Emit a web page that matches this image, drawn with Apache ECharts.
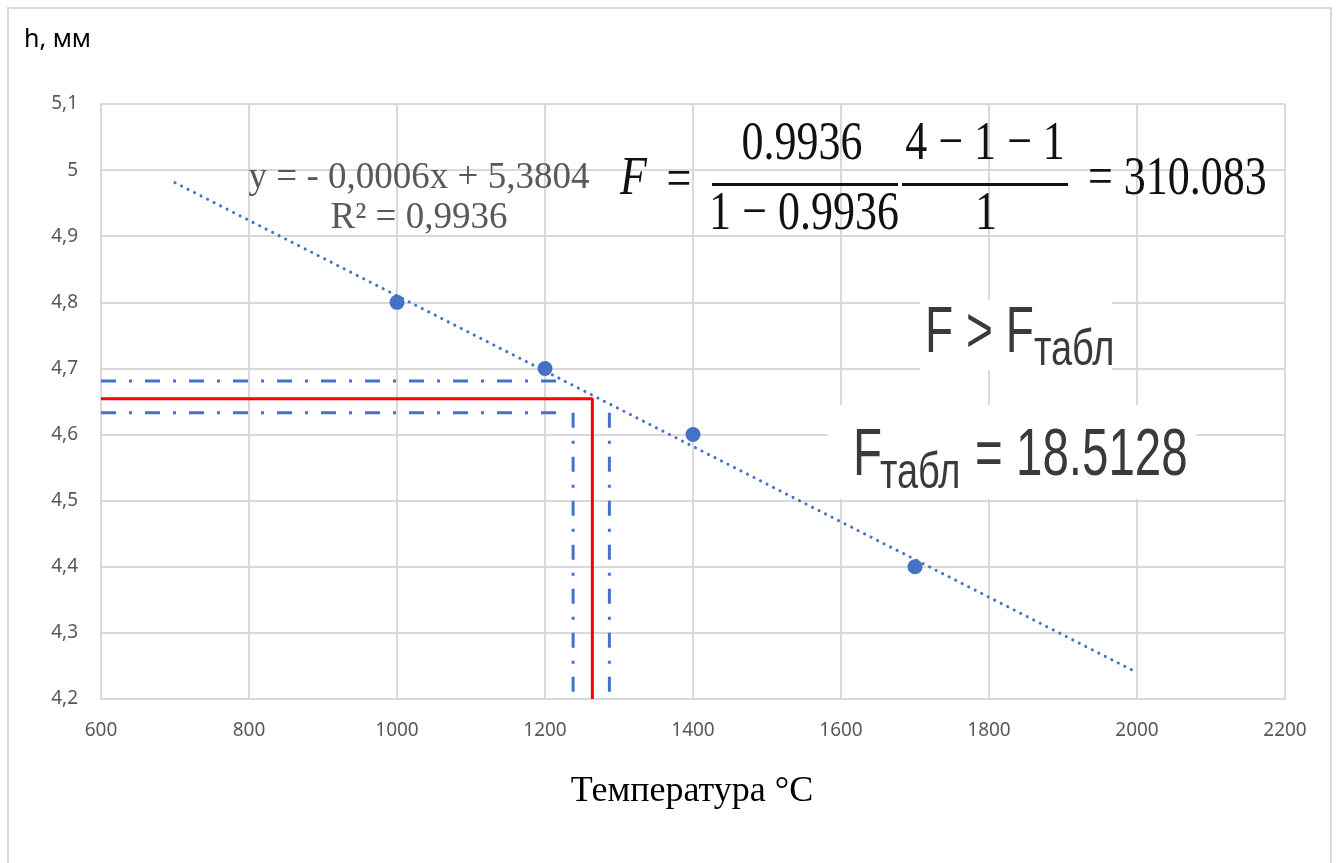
<!DOCTYPE html>
<html>
<head>
<meta charset="utf-8">
<script src="https://cdn.jsdelivr.net/npm/echarts@6/dist/echarts.min.js"></script>
<style>
  html, body { margin: 0; padding: 0; background: #fff; }
  #main { width: 1338px; height: 863px; }
</style>
</head>
<body>
<div id="main"></div>
<script>
// measured points
var temps = [1000, 1200, 1400, 1700];
var heights = [4.8, 4.7, 4.6, 4.4];

// linear trendline end points
var trendX = [700, 2000];
var trendY = [4.981, 4.240];

// reference lines
var redX = [600, 1264, 1264];
var redY = [4.654, 4.654, 4.2];
var blueUpperX = [600, 1218];
var blueUpperY = [4.681, 4.681];
var blueLowerX = [600, 1218];
var blueLowerY = [4.633, 4.633];
var blueLeftX = [1238, 1238];
var blueLeftY = [4.633, 4.2];
var blueRightX = [1287, 1287];
var blueRightY = [4.633, 4.2];

function pairs(xs, ys) {
    return xs.map(function (x, i) { return [x, ys[i]]; });
}

var chart = echarts.init(document.getElementById('main'), null, { renderer: 'canvas' });

var blue = '#4472c4';
var dashDot = [15, 13, 3, 13];
var labelFont = '"Noto Sans", sans-serif';
var serif = '"Liberation Serif", serif';
var sans = '"Liberation Sans", Arial, sans-serif';

function refLine(data, color, type) {
    return {
        type: 'line',
        data: data,
        symbol: 'none',
        silent: true,
        z: 3,
        lineStyle: { color: color, width: 3, type: type }
    };
}

var option = {
    animation: false,
    backgroundColor: '#fff',
    grid: {
        left: 101,
        right: 53,
        top: 104,
        bottom: 164
    },
    xAxis: {
        type: 'value',
        min: 600,
        max: 2200,
        interval: 200,
        axisLine: { show: true, lineStyle: { color: '#d9d9d9', width: 2 } },
        axisTick: { show: false },
        axisLabel: {
            color: '#595959', fontSize: 19, fontFamily: labelFont, margin: 22,
            formatter: function (v) { return String(v); }
        },
        splitLine: { show: true, lineStyle: { color: '#d9d9d9', width: 2 } }
    },
    yAxis: {
        type: 'value',
        min: 4.2,
        max: 5.1,
        interval: 0.1,
        axisLine: { show: true, lineStyle: { color: '#d9d9d9', width: 2 } },
        axisTick: { show: false },
        axisLabel: {
            color: '#595959', fontSize: 19, fontFamily: labelFont, margin: 23,
            formatter: function (v) {
                return String(Math.round(v * 10) / 10).replace('.', ',');
            }
        },
        splitLine: { show: true, lineStyle: { color: '#d9d9d9', width: 2 } }
    },
    series: [
        {
            type: 'line',
            data: pairs(trendX, trendY),
            symbol: 'none',
            silent: true,
            z: 3,
            lineStyle: { color: blue, width: 3, type: [0.1, 7.2], cap: 'round' }
        },
        refLine(pairs(blueUpperX, blueUpperY), blue, dashDot),
        refLine(pairs(blueLowerX, blueLowerY), blue, dashDot),
        refLine(pairs(blueLeftX, blueLeftY), blue, dashDot),
        refLine(pairs(blueRightX, blueRightY), blue, dashDot),
        refLine(pairs(redX, redY), '#ff0000', 'solid'),
        {
            type: 'scatter',
            data: pairs(temps, heights),
            symbolSize: 15,
            z: 5,
            itemStyle: { color: blue, opacity: 1 }
        }
    ],
    graphic: [
        // outer frame
        { type: 'rect', shape: { x: 8, y: 8, width: 1323, height: 880 }, style: { fill: null, stroke: '#d9d9d9', lineWidth: 2 }, z: 0 },
        // white boxes behind F labels
        { type: 'rect', shape: { x: 920, y: 300, width: 192, height: 70 }, style: { fill: '#fff' }, z: 1 },
        { type: 'rect', shape: { x: 828, y: 405, width: 368, height: 94 }, style: { fill: '#fff' }, z: 1 },

        // axis titles
        { type: 'text', x: 24, y: 40, z: 10, style: { text: 'h, мм', fill: '#000', font: '25px ' + labelFont, verticalAlign: 'middle' } },
        { type: 'text', x: 692, y: 792, z: 10, style: { text: 'Температура °С', fill: '#000', font: '36px ' + serif, align: 'center', verticalAlign: 'middle' } },

        // trendline equation
        { type: 'text', x: 419, y: 178, z: 10, style: { text: 'y = - 0,0006x + 5,3804', fill: '#595959', font: '37px ' + serif, align: 'center', verticalAlign: 'middle' } },
        { type: 'text', x: 419, y: 218, z: 10, style: { text: 'R² = 0,9936', fill: '#595959', font: '37px ' + serif, align: 'center', verticalAlign: 'middle' } },

        // F formula
        { type: 'text', x: 620, y: 180, scaleY: 1.25, z: 10, style: { text: 'F', fill: '#111', font: 'italic 44px ' + serif, verticalAlign: 'middle' } },
        { type: 'text', x: 679, y: 182, scaleY: 1.25, z: 10, style: { text: '=', fill: '#111', font: '44px ' + serif, align: 'center', verticalAlign: 'middle' } },
        { type: 'rect', shape: { x: 712, y: 183, width: 186, height: 3 }, style: { fill: '#111' }, z: 10 },
        { type: 'rect', shape: { x: 902, y: 183, width: 166, height: 3 }, style: { fill: '#111' }, z: 10 },
        { type: 'text', x: 802, y: 145, scaleY: 1.25, z: 10, style: { text: '0.9936', fill: '#111', font: '44px ' + serif, align: 'center', verticalAlign: 'middle' } },
        { type: 'text', x: 804, y: 215, scaleY: 1.25, z: 10, style: { text: '1 − 0.9936', fill: '#111', font: '44px ' + serif, align: 'center', verticalAlign: 'middle' } },
        { type: 'text', x: 985, y: 145, scaleY: 1.25, z: 10, style: { text: '4 − 1 − 1', fill: '#111', font: '44px ' + serif, align: 'center', verticalAlign: 'middle' } },
        { type: 'text', x: 986, y: 215, scaleY: 1.25, z: 10, style: { text: '1', fill: '#111', font: '44px ' + serif, align: 'center', verticalAlign: 'middle' } },
        { type: 'text', x: 1088, y: 180, scaleY: 1.25, z: 10, style: { text: '= 310.083', fill: '#111', font: '44px ' + serif, verticalAlign: 'middle' } },

        // F > Fтабл
        { type: 'text', x: 925, y: 334, scaleX: 0.72, z: 10, style: { text: 'F > F', fill: '#3a3a3a', font: '64px ' + sans, verticalAlign: 'middle' } },
        { type: 'text', x: 1034, y: 351, scaleX: 0.76, z: 10, style: { text: 'табл', fill: '#3a3a3a', font: '50px ' + sans, verticalAlign: 'middle' } },

        // Fтабл = 18.5128
        { type: 'text', x: 853, y: 457, scaleX: 0.72, z: 10, style: { text: 'F', fill: '#3a3a3a', font: '66px ' + sans, verticalAlign: 'middle' } },
        { type: 'text', x: 880, y: 474, scaleX: 0.76, z: 10, style: { text: 'табл', fill: '#3a3a3a', font: '50px ' + sans, verticalAlign: 'middle' } },
        { type: 'text', x: 975, y: 457, scaleX: 0.72, z: 10, style: { text: '= 18.5128', fill: '#3a3a3a', font: '66px ' + sans, verticalAlign: 'middle' } }
    ]
};

chart.setOption(option);

window.addEventListener('resize', function () {
    chart.resize();
});
</script>
</body>
</html>
